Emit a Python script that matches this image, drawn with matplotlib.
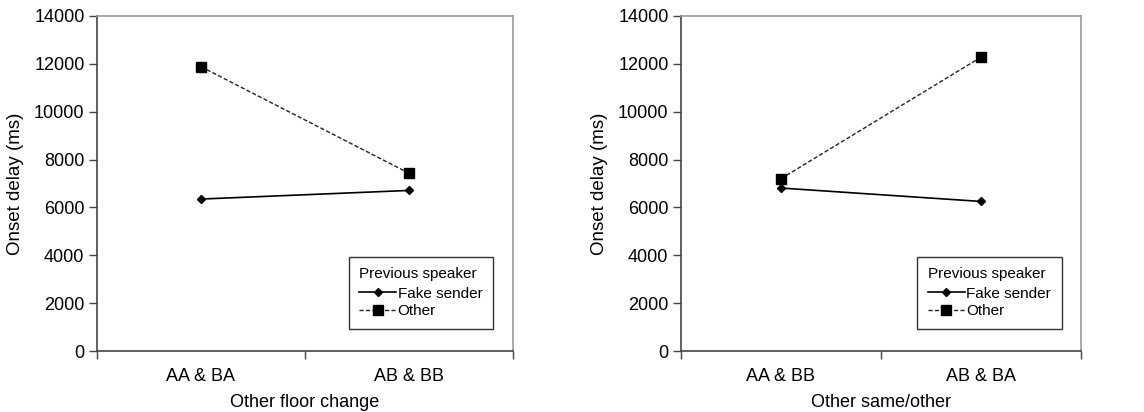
import matplotlib
matplotlib.use("Agg")
import matplotlib.pyplot as plt
from matplotlib.ticker import FixedLocator, NullFormatter

plt.rcParams['font.family'] = ['Liberation Sans', 'DejaVu Sans']

# Data
left_categories = ["AA & BA", "AB & BB"]
left_fake = [6350, 6710]
left_other = [11880, 7430]

right_categories = ["AA & BB", "AB & BA"]
right_fake = [6810, 6250]
right_other = [7200, 12280]

y_ticks = [0, 2000, 4000, 6000, 8000, 10000, 12000, 14000]
legend_title = "Previous speaker"
series_names = ["Fake sender", "Other"]
y_label = "Onset delay (ms)"
left_xlabel = "Other floor change"
right_xlabel = "Other same/other"

fig = plt.figure(figsize=(11.44, 4.12), dpi=100)
axL = fig.add_axes([97/1144, 61/412, 416/1144, 335/412])
axR = fig.add_axes([681/1144, 61/412, 400/1144, 335/412])


def draw(ax, cats, fake, other, xlabel):
    x = list(range(len(cats)))
    ax.plot(x, fake, color='black', lw=1.2, marker='D', markersize=4.5,
            label=series_names[0])
    ax.plot(x, other, color='#222222', lw=1.0, ls=(0, (3, 1.6)), marker='s',
            markersize=6.5, markerfacecolor='black', markeredgecolor='black',
            label=series_names[1])
    ax.set_xlim(-0.5, len(cats) - 0.5)
    ax.set_ylim(0, 14000)
    ax.set_yticks(y_ticks)
    ax.set_yticklabels([str(t) for t in y_ticks])
    ax.set_xticks(x)
    ax.set_xticklabels(cats)
    ax.tick_params(axis='x', which='major', length=0, pad=12, labelsize=13)
    ax.xaxis.set_minor_locator(FixedLocator([i - 0.5 for i in range(len(cats) + 1)]))
    ax.xaxis.set_minor_formatter(NullFormatter())
    ax.tick_params(axis='x', which='minor', length=6, width=1, color='#444444',
                   direction='out')
    ax.tick_params(axis='y', length=6, width=1, color='#444444', direction='out',
                   labelsize=13, pad=3)
    for s in ['left', 'bottom']:
        ax.spines[s].set_color('#444444')
        ax.spines[s].set_linewidth(1.2)
    for s in ['top', 'right']:
        ax.spines[s].set_color('#999999')
        ax.spines[s].set_linewidth(1.2)
    ax.set_ylabel(y_label, fontsize=13.5, labelpad=7)
    ax.set_xlabel(xlabel, fontsize=13, labelpad=7)
    leg = ax.legend(title=legend_title, loc='lower right',
                    bbox_to_anchor=(0.952, 0.066), fontsize=11,
                    title_fontsize=11, frameon=True, fancybox=False,
                    edgecolor='black', handlelength=2.4, handletextpad=0.1,
                    borderpad=0.7, labelspacing=0.22, borderaxespad=0)
    leg._legend_box.align = 'left'
    leg._legend_box.sep = 4
    leg.get_frame().set_linewidth(1.0)


draw(axL, left_categories, left_fake, left_other, left_xlabel)
draw(axR, right_categories, right_fake, right_other, right_xlabel)

fig.savefig("out.png", dpi=100)
